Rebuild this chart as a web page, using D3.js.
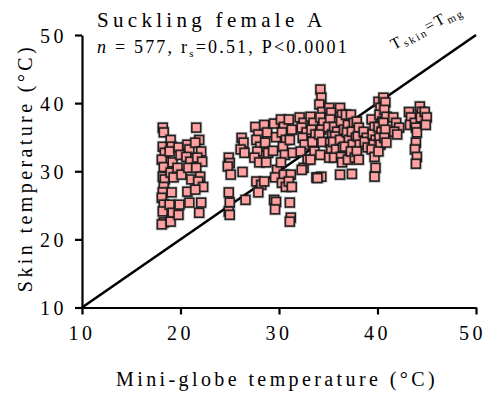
<!DOCTYPE html>
<html>
<head>
<meta charset="utf-8">
<script src="https://cdn.jsdelivr.net/npm/d3@7"></script>
<style>
  html, body { margin: 0; padding: 0; background: #fff; }
  svg { display: block; font-family: "Liberation Serif", "Times New Roman", serif; }
</style>
</head>
<body>
<svg id="chart" width="490" height="394"></svg>
<script>
// Tick values for both axes (°C)
const xTicks = [10, 20, 30, 40, 50];
const yTicks = [10, 20, 30, 40, 50];

// Identity line T_skin = T_mg
const identityLine = [10, 50];

// Mini-globe temperature readings and matching skin temperatures, grouped by run
const mgA = [18.2,18.3,18.2,18.4,18.1,18.3,18.2,18.4,18.3,18.2,18.1,18.3,18.2,18.3,18.1,
             19.0,19.1,18.9,19.2,19.0,19.3,19.1,18.9,19.2,19.0,
             19.8,20.0,19.7,20.1,19.9,19.8,
             20.7,20.9,20.6,21.0,20.8,21.1,20.7,20.9,
             21.6,21.9,21.5,22.1,21.7,22.2,21.6,22.0,21.8,22.3,21.5,22.1,21.9];
const skA = [36.4,35.7,33.6,32.7,31.7,30.6,29.2,28.8,27.7,26.9,26.1,25.1,24.1,22.5,22.2,
             34.6,33.6,32.9,31.3,29.8,29.1,26.9,25.1,23.9,22.6,
             33.5,32.4,30.5,29.5,25.1,23.6,
             33.9,33.2,32.1,31.4,30.5,28.8,27.0,25.4,
             36.4,34.6,34.2,32.9,32.0,31.4,30.5,29.2,28.5,27.7,27.3,25.4,23.9];

const mgB = [24.9,25.0,24.8,25.1,24.9,25.0,24.9,25.0,
             26.2,26.4,26.1,26.5,26.3,26.6,
             27.6,27.9,27.7,28.1,27.8,27.5,28.0,27.7,28.2,27.9,
             28.5,28.8,28.6,28.9,28.7,28.5,
             29.5,29.7,29.4,29.8,29.6,29.5,29.7,29.6,
             30.2,30.5,30.3,30.7,30.4,30.6,30.2,30.5,30.3,30.7,
             31.0,31.3,31.1,31.4,31.2,31.0,31.3,31.1,31.2,31.1];
const skB = [32.0,31.2,30.7,29.5,26.9,25.4,24.1,23.6,
             34.9,34.2,33.2,32.7,29.9,25.8,
             36.5,35.4,34.6,33.6,32.9,32.0,31.3,28.5,28.0,26.9,
             36.8,35.7,34.2,32.7,31.3,28.5,
             37.0,35.0,33.0,30.2,29.1,25.8,25.5,24.4,
             37.6,36.5,35.7,34.6,33.6,32.4,31.3,29.5,28.3,27.7,
             37.6,36.1,34.6,32.7,29.5,28.5,27.7,25.4,23.2,22.6];

const mgC = [32.1,32.5,32.3,32.8,32.4,32.6,32.2,32.9,32.5,32.3,
             33.2,33.5,33.3,33.7,33.4,33.6,33.2,33.8,34.3,
             34.2,34.3,34.1,34.4,34.2,34.5,34.3,34.1,34.4,34.2,33.9,
             35.1,35.3,35.2,35.0,35.4,35.2,35.3,35.1,
             35.6,35.9,35.7,35.5,35.8,35.6,
             36.2,36.4,36.3,36.6,36.2,36.5,36.3,36.4,36.2,
             36.8,37.0,36.9,37.1,36.7,37.0,
             37.3,37.6,37.4,37.8,37.5,37.3,37.7,37.4,
             37.9,38.1,38.0,38.2,37.9,38.1,
             38.6,38.9,38.7,39.0,
             39.4,39.7,39.5,39.8,39.6,39.4,39.7,39.8,39.7,
             40.1,40.3,40.2,40.5,40.1,40.4,40.2,40.3,40.1,
             40.6,40.8,40.7,40.9,40.6,40.8,40.7,40.9,
             41.6,41.9,42.2,41.7,42.0,
             43.2,43.4,43.3,
             43.8,43.9,44.0,43.9,43.8,44.0,43.9,
             44.3,44.5,44.4,
             44.8,45.0,44.9];
const skC = [37.9,37.1,36.4,35.7,34.9,33.9,32.9,31.7,30.5,30.2,
             38.0,37.1,36.1,35.4,34.3,32.9,31.7,29.1,29.2,
             42.0,40.8,39.8,38.7,37.9,37.1,36.1,35.4,34.3,32.4,29.0,
             39.3,38.6,37.6,36.5,35.4,34.2,33.2,32.0,
             36.5,35.8,35.1,34.3,33.2,32.0,
             39.3,38.3,37.3,36.1,34.6,33.5,32.1,31.3,29.5,
             38.3,36.8,35.7,34.6,33.6,31.7,
             38.3,37.1,35.8,34.9,33.9,32.9,32.0,29.6,
             37.3,36.4,35.1,33.9,32.9,31.7,
             35.8,34.9,34.3,33.5,
             37.6,36.5,35.4,34.6,33.9,33.2,32.1,30.5,29.2,
             40.2,39.3,38.3,37.3,36.5,35.8,34.9,33.9,32.9,
             40.8,40.1,39.0,38.0,37.1,36.1,34.9,34.2,
             37.9,37.1,36.4,35.8,35.4,
             38.7,37.9,36.8,
             37.1,36.4,35.7,34.2,33.2,32.1,31.1,
             39.5,38.7,37.9,
             38.7,37.9,36.8];

const mgTemp = mgA.concat(mgB, mgC);
const skinTemp = skA.concat(skB, skC);
const points = mgTemp.map((x, i) => ({ x, y: skinTemp[i] }));

const svg = d3.select("#chart");
const x = d3.scaleLinear().domain([10, 50]).range([82, 476]);
const y = d3.scaleLinear().domain([10, 50]).range([307.5, 35]);

// Identity line
svg.append("line")
  .attr("x1", x(identityLine[0])).attr("y1", y(identityLine[0]))
  .attr("x2", x(identityLine[1])).attr("y2", y(identityLine[1]))
  .attr("stroke", "#000").attr("stroke-width", 2.6);

// Square markers
const s = 8.8;
const g = svg.append("g");
points.forEach(p => {
  g.append("rect")
    .attr("x", x(p.x) - s / 2).attr("y", y(p.y) - s / 2)
    .attr("width", s).attr("height", s)
    .attr("fill", "none").attr("stroke", "#000").attr("stroke-opacity", 0.25).attr("stroke-width", 3.2);
  g.append("rect")
    .attr("x", x(p.x) - s / 2).attr("y", y(p.y) - s / 2)
    .attr("width", s).attr("height", s)
    .attr("fill", "#ffa1a1").attr("stroke", "#222").attr("stroke-width", 1.6);
});

// Axes
const xAxis = svg.append("g").attr("transform", `translate(0,${y(10)})`)
  .call(d3.axisBottom(x).tickValues(xTicks).tickSize(7).tickPadding(11).tickSizeOuter(0));
const yAxis = svg.append("g").attr("transform", `translate(${x(10)},0)`)
  .call(d3.axisLeft(y).tickValues(yTicks).tickSize(7).tickPadding(8).tickSizeOuter(0));
[xAxis, yAxis].forEach(a => {
  a.select(".domain").attr("stroke", "#000").attr("stroke-width", 2.2);
  a.selectAll(".tick line").attr("stroke", "#000").attr("stroke-width", 2.2);
  a.selectAll(".tick text").attr("fill", "#000")
    .style("font-family", "Liberation Serif").style("font-size", "20px").style("letter-spacing", "3.5px");
});
xAxis.selectAll(".tick text").attr("dx", (d, i) => i === xTicks.length - 1 ? "-4px" : "-0.5px");
yAxis.selectAll(".tick text").attr("dy", "0.36em");

// Axis titles
svg.append("text")
  .attr("x", 277).attr("y", 386).attr("text-anchor", "middle")
  .style("font-size", "20px").style("letter-spacing", "3.4px")
  .text("Mini-globe temperature (°C)");
svg.append("text")
  .attr("transform", "translate(32,168) rotate(-90)").attr("text-anchor", "middle")
  .style("font-size", "20px").style("letter-spacing", "3.4px")
  .text("Skin temperature (°C)");

// Panel title and statistics
svg.append("text")
  .attr("x", 97).attr("y", 27)
  .style("font-size", "21px").style("letter-spacing", "4.3px")
  .text("Suckling female A");
const stats = svg.append("text")
  .attr("x", 97).attr("y", 53)
  .style("font-size", "18px").style("letter-spacing", "2.2px");
stats.append("tspan").style("font-style", "italic").text("n");
stats.append("tspan").text(" = 577, r");
stats.append("tspan").attr("dy", 4).style("font-size", "11px").text("s");
stats.append("tspan").attr("dy", -4).text("=0.51, P<0.0001");

// Identity line label
const lbl = svg.append("text")
  .attr("transform", "translate(394,50) rotate(-28)")
  .style("font-size", "16px").style("letter-spacing", "2px");
lbl.append("tspan").text("T");
lbl.append("tspan").attr("dy", 3).style("font-size", "11px").text("skin");
lbl.append("tspan").attr("dy", -3).text("=T");
lbl.append("tspan").attr("dy", 3).style("font-size", "11px").text("mg");
</script>
</body>
</html>
